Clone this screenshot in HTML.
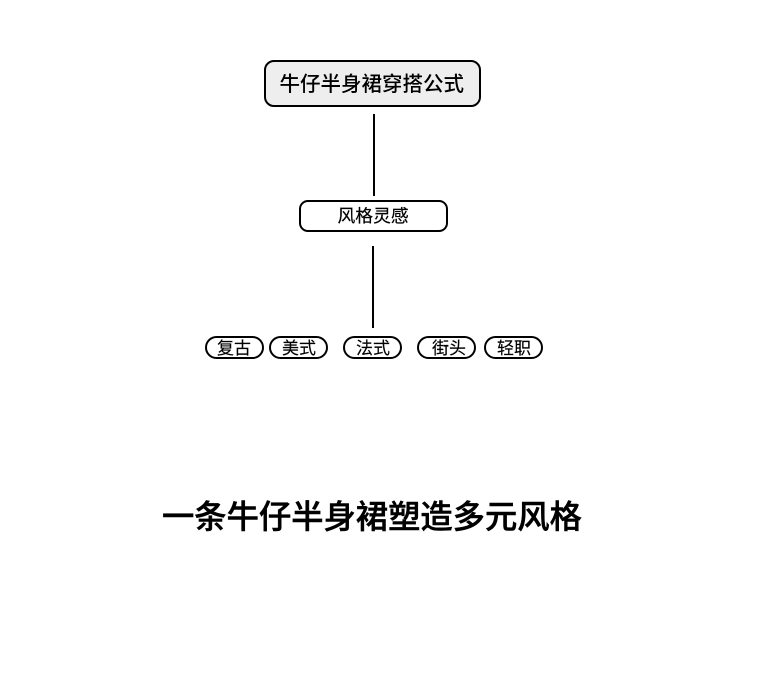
<!DOCTYPE html>
<html><head><meta charset="utf-8"><style>
html,body{margin:0;padding:0;background:#fff;width:772px;height:690px;overflow:hidden}
body{position:relative;font-family:"Liberation Sans","Noto Sans CJK SC",sans-serif;color:#000}
.b{position:absolute;box-sizing:border-box;border:2px solid #000;background:#fff}
.l{position:absolute;width:2px;background:#000}
.c{height:23px;width:59px;border-radius:12px;top:336px}
.t{position:absolute;white-space:nowrap;line-height:24px}
.s{font-size:17px;top:336.5px;-webkit-text-stroke:.15px #000}
</style></head><body>
<div class="b" style="left:264px;top:60px;width:217px;height:47px;border-radius:10px;background:#eee"></div>
<div class="t" style="left:279.5px;top:72.5px;font-size:20.5px;font-weight:500">牛仔半身裙穿搭公式</div>
<div class="l" style="left:373px;top:114px;height:82px"></div>
<div class="b" style="left:299px;top:200px;width:149px;height:32px;border-radius:9px"></div>
<div class="t" style="left:337.5px;top:204px;font-size:17.8px;-webkit-text-stroke:.2px #000">风格灵感</div>
<div class="l" style="left:372px;top:246px;height:82px"></div>
<div class="b c" style="left:205px"></div>
<div class="b c" style="left:269px"></div>
<div class="b c" style="left:343px"></div>
<div class="b c" style="left:417px"></div>
<div class="b c" style="left:484px"></div>
<div class="t s" style="left:217px">复古</div>
<div class="t s" style="left:282px">美式</div>
<div class="t s" style="left:356px">法式</div>
<div class="t s" style="left:432px">街头</div>
<div class="t s" style="left:497px">轻职</div>
<div class="t" style="left:162px;top:505px;font-size:32.3px;font-weight:500;white-space:nowrap;-webkit-text-stroke:.5px #000">一条牛仔半身裙塑造多元风格</div>
</body></html>
